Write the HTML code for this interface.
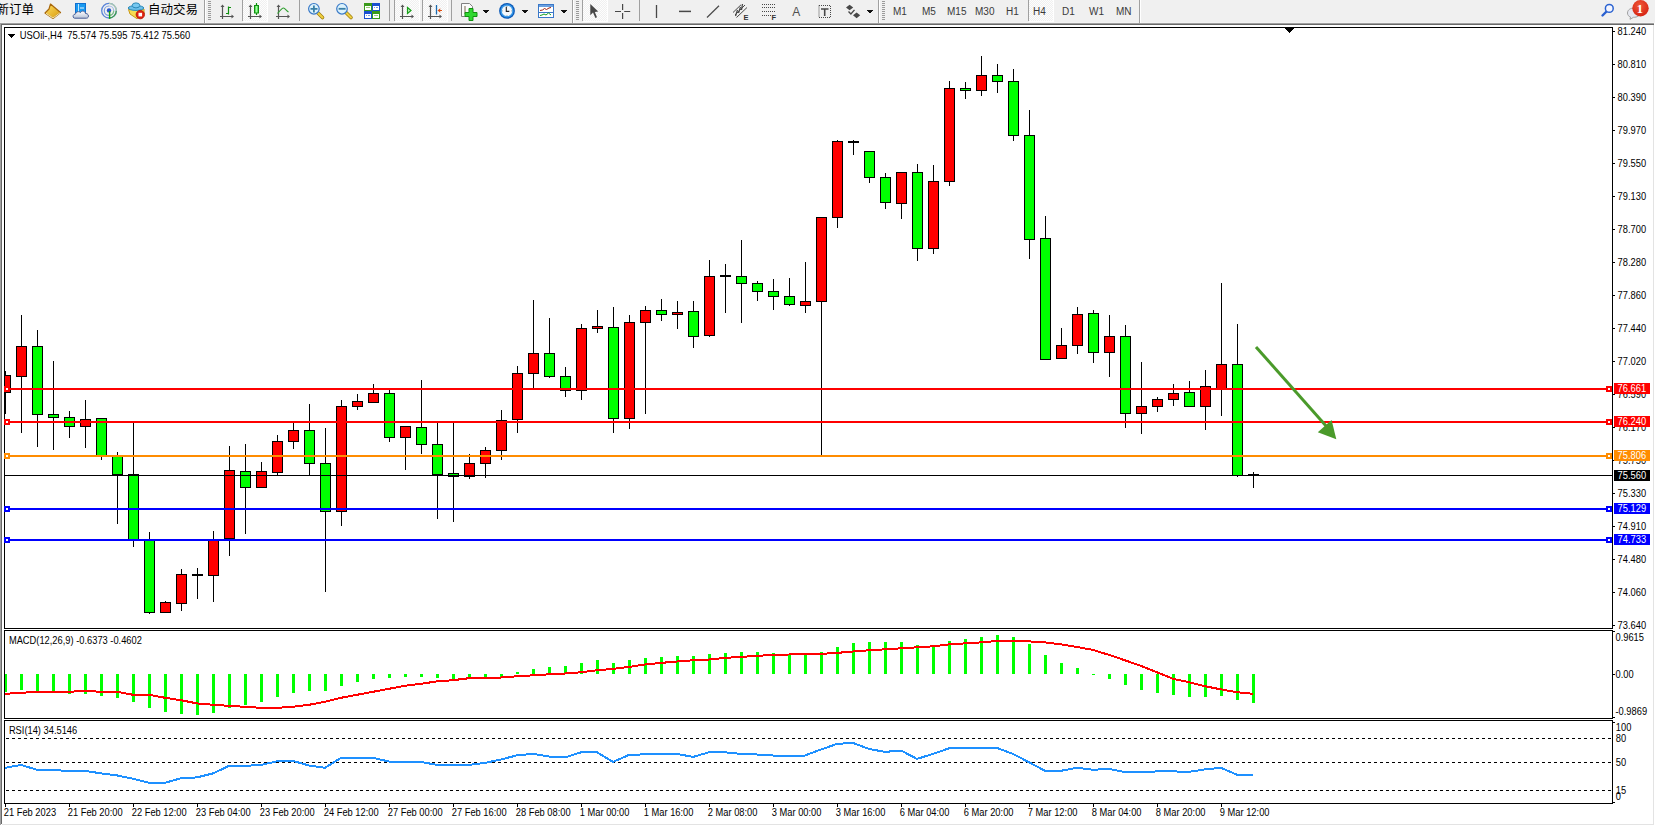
<!DOCTYPE html>
<html><head><meta charset="utf-8">
<style>
html,body{margin:0;padding:0;width:1655px;height:826px;overflow:hidden;background:#fff}
svg{display:block}
text{font-family:"Liberation Sans","Noto Sans CJK SC",sans-serif;font-size:10px}
.cj{font-family:"Liberation Sans","Noto Sans CJK SC",sans-serif;font-size:12.5px}
</style></head><body>
<svg width="1655" height="826" viewBox="0 0 1655 826" shape-rendering="crispEdges">
<!-- app frame -->
<rect x="0" y="0" width="1655" height="826" fill="#fff"/>
<rect x="0" y="0" width="1655" height="22" fill="#f0f0f0"/>
<rect x="0" y="22" width="1655" height="1" fill="#f4f4f4"/>
<rect x="0" y="23" width="1654" height="1" fill="#a0a0a0"/>
<rect x="0" y="24" width="1654" height="1" fill="#696969"/>
<rect x="0" y="23" width="1" height="802" fill="#a0a0a0"/>
<rect x="1" y="24" width="1" height="800" fill="#696969"/>
<rect x="2" y="824" width="1652" height="1" fill="#e3e3e3"/>
<rect x="1653" y="25" width="1" height="800" fill="#e3e3e3"/>

<!-- chart windows borders -->
<g fill="#000">
<rect x="4" y="27" width="1609" height="1"/>
<rect x="4" y="628" width="1609" height="1"/>
<rect x="4" y="27" width="1" height="602"/>
<rect x="1612" y="27" width="1" height="602"/>
<rect x="4" y="630" width="1609" height="1"/>
<rect x="4" y="718" width="1609" height="1"/>
<rect x="4" y="630" width="1" height="89"/>
<rect x="1612" y="630" width="1" height="89"/>
<rect x="4" y="720" width="1609" height="1"/>
<rect x="4" y="803" width="1609" height="1"/>
<rect x="4" y="720" width="1" height="84"/>
<rect x="1612" y="720" width="1" height="84"/>
</g>

<!-- main chart -->
<svg x="5" y="28" width="1607" height="600" viewBox="5 28 1607 600" overflow="hidden">
<g fill="#000">
<rect x="5" y="371" width="1" height="43"/>
<rect x="0" y="375" width="11" height="18"/>
<rect x="1" y="376" width="9" height="16" fill="#f00"/>
<rect x="21" y="315" width="1" height="118"/>
<rect x="16" y="346" width="11" height="31"/>
<rect x="17" y="347" width="9" height="29" fill="#f00"/>
<rect x="37" y="330" width="1" height="117"/>
<rect x="32" y="346" width="11" height="69"/>
<rect x="33" y="347" width="9" height="67" fill="#0f0"/>
<rect x="53" y="361" width="1" height="89"/>
<rect x="48" y="414" width="11" height="4"/>
<rect x="49" y="415" width="9" height="2" fill="#0f0"/>
<rect x="69" y="411" width="1" height="27"/>
<rect x="64" y="417" width="11" height="10"/>
<rect x="65" y="418" width="9" height="8" fill="#0f0"/>
<rect x="85" y="400" width="1" height="48"/>
<rect x="80" y="419" width="11" height="8"/>
<rect x="81" y="420" width="9" height="6" fill="#f00"/>
<rect x="101" y="418" width="1" height="42"/>
<rect x="96" y="418" width="11" height="38"/>
<rect x="97" y="419" width="9" height="36" fill="#0f0"/>
<rect x="117" y="452" width="1" height="72"/>
<rect x="112" y="456" width="11" height="19"/>
<rect x="113" y="457" width="9" height="17" fill="#0f0"/>
<rect x="133" y="423" width="1" height="124"/>
<rect x="128" y="474" width="11" height="66"/>
<rect x="129" y="475" width="9" height="64" fill="#0f0"/>
<rect x="149" y="532" width="1" height="82"/>
<rect x="144" y="540" width="11" height="73"/>
<rect x="145" y="541" width="9" height="71" fill="#0f0"/>
<rect x="165" y="601" width="1" height="12"/>
<rect x="160" y="602" width="11" height="11"/>
<rect x="161" y="603" width="9" height="9" fill="#f00"/>
<rect x="181" y="569" width="1" height="42"/>
<rect x="176" y="574" width="11" height="30"/>
<rect x="177" y="575" width="9" height="28" fill="#f00"/>
<rect x="197" y="568" width="1" height="31"/>
<rect x="192" y="574" width="11" height="2"/>
<rect x="213" y="531" width="1" height="71"/>
<rect x="208" y="540" width="11" height="36"/>
<rect x="209" y="541" width="9" height="34" fill="#f00"/>
<rect x="229" y="446" width="1" height="110"/>
<rect x="224" y="470" width="11" height="69"/>
<rect x="225" y="471" width="9" height="67" fill="#f00"/>
<rect x="245" y="444" width="1" height="90"/>
<rect x="240" y="471" width="11" height="17"/>
<rect x="241" y="472" width="9" height="15" fill="#0f0"/>
<rect x="261" y="462" width="1" height="26"/>
<rect x="256" y="471" width="11" height="17"/>
<rect x="257" y="472" width="9" height="15" fill="#f00"/>
<rect x="277" y="435" width="1" height="40"/>
<rect x="272" y="441" width="11" height="32"/>
<rect x="273" y="442" width="9" height="30" fill="#f00"/>
<rect x="293" y="423" width="1" height="26"/>
<rect x="288" y="430" width="11" height="12"/>
<rect x="289" y="431" width="9" height="10" fill="#f00"/>
<rect x="309" y="404" width="1" height="72"/>
<rect x="304" y="430" width="11" height="34"/>
<rect x="305" y="431" width="9" height="32" fill="#0f0"/>
<rect x="325" y="428" width="1" height="164"/>
<rect x="320" y="463" width="11" height="49"/>
<rect x="321" y="464" width="9" height="47" fill="#0f0"/>
<rect x="341" y="400" width="1" height="126"/>
<rect x="336" y="406" width="11" height="106"/>
<rect x="337" y="407" width="9" height="104" fill="#f00"/>
<rect x="357" y="394" width="1" height="16"/>
<rect x="352" y="401" width="11" height="6"/>
<rect x="353" y="402" width="9" height="4" fill="#f00"/>
<rect x="373" y="384" width="1" height="19"/>
<rect x="368" y="393" width="11" height="10"/>
<rect x="369" y="394" width="9" height="8" fill="#f00"/>
<rect x="389" y="390" width="1" height="52"/>
<rect x="384" y="393" width="11" height="45"/>
<rect x="385" y="394" width="9" height="43" fill="#0f0"/>
<rect x="405" y="426" width="1" height="44"/>
<rect x="400" y="426" width="11" height="12"/>
<rect x="401" y="427" width="9" height="10" fill="#f00"/>
<rect x="421" y="380" width="1" height="74"/>
<rect x="416" y="427" width="11" height="18"/>
<rect x="417" y="428" width="9" height="16" fill="#0f0"/>
<rect x="437" y="423" width="1" height="96"/>
<rect x="432" y="444" width="11" height="31"/>
<rect x="433" y="445" width="9" height="29" fill="#0f0"/>
<rect x="453" y="423" width="1" height="99"/>
<rect x="448" y="473" width="11" height="4"/>
<rect x="449" y="474" width="9" height="2" fill="#0f0"/>
<rect x="469" y="454" width="1" height="25"/>
<rect x="464" y="463" width="11" height="14"/>
<rect x="465" y="464" width="9" height="12" fill="#f00"/>
<rect x="485" y="447" width="1" height="31"/>
<rect x="480" y="450" width="11" height="14"/>
<rect x="481" y="451" width="9" height="12" fill="#f00"/>
<rect x="501" y="410" width="1" height="50"/>
<rect x="496" y="420" width="11" height="31"/>
<rect x="497" y="421" width="9" height="29" fill="#f00"/>
<rect x="517" y="366" width="1" height="67"/>
<rect x="512" y="373" width="11" height="47"/>
<rect x="513" y="374" width="9" height="45" fill="#f00"/>
<rect x="533" y="300" width="1" height="88"/>
<rect x="528" y="353" width="11" height="21"/>
<rect x="529" y="354" width="9" height="19" fill="#f00"/>
<rect x="549" y="318" width="1" height="60"/>
<rect x="544" y="353" width="11" height="24"/>
<rect x="545" y="354" width="9" height="22" fill="#0f0"/>
<rect x="565" y="367" width="1" height="30"/>
<rect x="560" y="376" width="11" height="15"/>
<rect x="561" y="377" width="9" height="13" fill="#0f0"/>
<rect x="581" y="324" width="1" height="76"/>
<rect x="576" y="328" width="11" height="63"/>
<rect x="577" y="329" width="9" height="61" fill="#f00"/>
<rect x="597" y="310" width="1" height="23"/>
<rect x="592" y="326" width="11" height="3"/>
<rect x="593" y="327" width="9" height="1" fill="#f00"/>
<rect x="613" y="307" width="1" height="126"/>
<rect x="608" y="327" width="11" height="92"/>
<rect x="609" y="328" width="9" height="90" fill="#0f0"/>
<rect x="629" y="315" width="1" height="114"/>
<rect x="624" y="322" width="11" height="97"/>
<rect x="625" y="323" width="9" height="95" fill="#f00"/>
<rect x="645" y="306" width="1" height="108"/>
<rect x="640" y="310" width="11" height="13"/>
<rect x="641" y="311" width="9" height="11" fill="#f00"/>
<rect x="661" y="299" width="1" height="22"/>
<rect x="656" y="310" width="11" height="5"/>
<rect x="657" y="311" width="9" height="3" fill="#0f0"/>
<rect x="677" y="301" width="1" height="28"/>
<rect x="672" y="312" width="11" height="3"/>
<rect x="673" y="313" width="9" height="1" fill="#f00"/>
<rect x="693" y="301" width="1" height="47"/>
<rect x="688" y="311" width="11" height="26"/>
<rect x="689" y="312" width="9" height="24" fill="#0f0"/>
<rect x="709" y="260" width="1" height="77"/>
<rect x="704" y="276" width="11" height="60"/>
<rect x="705" y="277" width="9" height="58" fill="#f00"/>
<rect x="725" y="264" width="1" height="49"/>
<rect x="720" y="275" width="11" height="2"/>
<rect x="741" y="240" width="1" height="83"/>
<rect x="736" y="276" width="11" height="8"/>
<rect x="737" y="277" width="9" height="6" fill="#0f0"/>
<rect x="757" y="281" width="1" height="20"/>
<rect x="752" y="283" width="11" height="9"/>
<rect x="753" y="284" width="9" height="7" fill="#0f0"/>
<rect x="773" y="279" width="1" height="31"/>
<rect x="768" y="291" width="11" height="6"/>
<rect x="769" y="292" width="9" height="4" fill="#0f0"/>
<rect x="789" y="278" width="1" height="28"/>
<rect x="784" y="296" width="11" height="9"/>
<rect x="785" y="297" width="9" height="7" fill="#0f0"/>
<rect x="805" y="262" width="1" height="51"/>
<rect x="800" y="301" width="11" height="5"/>
<rect x="801" y="302" width="9" height="3" fill="#f00"/>
<rect x="821" y="217" width="1" height="238"/>
<rect x="816" y="217" width="11" height="85"/>
<rect x="817" y="218" width="9" height="83" fill="#f00"/>
<rect x="837" y="140" width="1" height="88"/>
<rect x="832" y="141" width="11" height="77"/>
<rect x="833" y="142" width="9" height="75" fill="#f00"/>
<rect x="853" y="140" width="1" height="15"/>
<rect x="848" y="141" width="11" height="2"/>
<rect x="869" y="151" width="1" height="32"/>
<rect x="864" y="151" width="11" height="27"/>
<rect x="865" y="152" width="9" height="25" fill="#0f0"/>
<rect x="885" y="173" width="1" height="36"/>
<rect x="880" y="177" width="11" height="26"/>
<rect x="881" y="178" width="9" height="24" fill="#0f0"/>
<rect x="901" y="172" width="1" height="47"/>
<rect x="896" y="172" width="11" height="32"/>
<rect x="897" y="173" width="9" height="30" fill="#f00"/>
<rect x="917" y="164" width="1" height="97"/>
<rect x="912" y="172" width="11" height="77"/>
<rect x="913" y="173" width="9" height="75" fill="#0f0"/>
<rect x="933" y="165" width="1" height="89"/>
<rect x="928" y="181" width="11" height="68"/>
<rect x="929" y="182" width="9" height="66" fill="#f00"/>
<rect x="949" y="81" width="1" height="105"/>
<rect x="944" y="88" width="11" height="94"/>
<rect x="945" y="89" width="9" height="92" fill="#f00"/>
<rect x="965" y="82" width="1" height="17"/>
<rect x="960" y="88" width="11" height="3"/>
<rect x="961" y="89" width="9" height="1" fill="#0f0"/>
<rect x="981" y="56" width="1" height="40"/>
<rect x="976" y="75" width="11" height="16"/>
<rect x="977" y="76" width="9" height="14" fill="#f00"/>
<rect x="997" y="64" width="1" height="29"/>
<rect x="992" y="75" width="11" height="7"/>
<rect x="993" y="76" width="9" height="5" fill="#0f0"/>
<rect x="1013" y="69" width="1" height="72"/>
<rect x="1008" y="81" width="11" height="55"/>
<rect x="1009" y="82" width="9" height="53" fill="#0f0"/>
<rect x="1029" y="110" width="1" height="149"/>
<rect x="1024" y="135" width="11" height="105"/>
<rect x="1025" y="136" width="9" height="103" fill="#0f0"/>
<rect x="1045" y="216" width="1" height="144"/>
<rect x="1040" y="238" width="11" height="122"/>
<rect x="1041" y="239" width="9" height="120" fill="#0f0"/>
<rect x="1061" y="328" width="1" height="31"/>
<rect x="1056" y="345" width="11" height="14"/>
<rect x="1057" y="346" width="9" height="12" fill="#f00"/>
<rect x="1077" y="307" width="1" height="47"/>
<rect x="1072" y="314" width="11" height="32"/>
<rect x="1073" y="315" width="9" height="30" fill="#f00"/>
<rect x="1093" y="310" width="1" height="53"/>
<rect x="1088" y="313" width="11" height="40"/>
<rect x="1089" y="314" width="9" height="38" fill="#0f0"/>
<rect x="1109" y="315" width="1" height="62"/>
<rect x="1104" y="336" width="11" height="17"/>
<rect x="1105" y="337" width="9" height="15" fill="#f00"/>
<rect x="1125" y="325" width="1" height="103"/>
<rect x="1120" y="336" width="11" height="78"/>
<rect x="1121" y="337" width="9" height="76" fill="#0f0"/>
<rect x="1141" y="362" width="1" height="72"/>
<rect x="1136" y="406" width="11" height="8"/>
<rect x="1137" y="407" width="9" height="6" fill="#f00"/>
<rect x="1157" y="397" width="1" height="15"/>
<rect x="1152" y="399" width="11" height="8"/>
<rect x="1153" y="400" width="9" height="6" fill="#f00"/>
<rect x="1173" y="384" width="1" height="22"/>
<rect x="1168" y="393" width="11" height="7"/>
<rect x="1169" y="394" width="9" height="5" fill="#f00"/>
<rect x="1189" y="381" width="1" height="26"/>
<rect x="1184" y="392" width="11" height="15"/>
<rect x="1185" y="393" width="9" height="13" fill="#0f0"/>
<rect x="1205" y="370" width="1" height="60"/>
<rect x="1200" y="386" width="11" height="21"/>
<rect x="1201" y="387" width="9" height="19" fill="#f00"/>
<rect x="1221" y="283" width="1" height="133"/>
<rect x="1216" y="364" width="11" height="25"/>
<rect x="1217" y="365" width="9" height="23" fill="#f00"/>
<rect x="1237" y="324" width="1" height="153"/>
<rect x="1232" y="364" width="11" height="112"/>
<rect x="1233" y="365" width="9" height="110" fill="#0f0"/>
<rect x="1253" y="472" width="1" height="16"/>
<rect x="1248" y="474" width="11" height="2"/>
</g>
<rect x="5" y="475" width="1607" height="1" fill="#000"/>
<rect x="5" y="388" width="1607" height="2" fill="#f00"/>
<rect x="1606" y="386" width="6" height="6" fill="#f00"/>
<rect x="1608" y="388" width="2" height="2" fill="#fff"/>
<rect x="5" y="421" width="1607" height="2" fill="#f00"/>
<rect x="1606" y="419" width="6" height="6" fill="#f00"/>
<rect x="1608" y="421" width="2" height="2" fill="#fff"/>
<rect x="5" y="455" width="1607" height="2" fill="#ff8c00"/>
<rect x="1606" y="453" width="6" height="6" fill="#ff8c00"/>
<rect x="1608" y="455" width="2" height="2" fill="#fff"/>
<rect x="5" y="508" width="1607" height="2" fill="#00f"/>
<rect x="1606" y="506" width="6" height="6" fill="#00f"/>
<rect x="1608" y="508" width="2" height="2" fill="#fff"/>
<rect x="5" y="539" width="1607" height="2" fill="#00f"/>
<rect x="1606" y="537" width="6" height="6" fill="#00f"/>
<rect x="1608" y="539" width="2" height="2" fill="#fff"/>
<path d="M1256,347 L1327,427" stroke="#4a9a2a" stroke-width="3" fill="none" shape-rendering="auto"/>
<path d="M1336.3,439.3 L1317.8,432.3 L1331.6,420 Z" fill="#4a9a2a" shape-rendering="auto"/>
<path d="M1285,28 h9 l-4.5,5 z" fill="#000"/>
</svg>
<path d="M8,34 h7 l-3.5,4 z" fill="#000"/>
<text x="21.02" y="39" transform="scale(0.942,1)" xml:space="preserve">USOil-,H4  75.574 75.595 75.412 75.560</text>

<!-- price axis -->
<g fill="#000">
<rect x="1613" y="31" width="2" height="1"/>
<text x="1735.62" y="35" transform="scale(0.932,1)">81.240</text>
<rect x="1613" y="64" width="2" height="1"/>
<text x="1735.62" y="68" transform="scale(0.932,1)">80.810</text>
<rect x="1613" y="97" width="2" height="1"/>
<text x="1735.62" y="101" transform="scale(0.932,1)">80.390</text>
<rect x="1613" y="130" width="2" height="1"/>
<text x="1735.62" y="134" transform="scale(0.932,1)">79.970</text>
<rect x="1613" y="163" width="2" height="1"/>
<text x="1735.62" y="167" transform="scale(0.932,1)">79.550</text>
<rect x="1613" y="196" width="2" height="1"/>
<text x="1735.62" y="200" transform="scale(0.932,1)">79.130</text>
<rect x="1613" y="229" width="2" height="1"/>
<text x="1735.62" y="233" transform="scale(0.932,1)">78.700</text>
<rect x="1613" y="262" width="2" height="1"/>
<text x="1735.62" y="266" transform="scale(0.932,1)">78.280</text>
<rect x="1613" y="295" width="2" height="1"/>
<text x="1735.62" y="299" transform="scale(0.932,1)">77.860</text>
<rect x="1613" y="328" width="2" height="1"/>
<text x="1735.62" y="332" transform="scale(0.932,1)">77.440</text>
<rect x="1613" y="361" width="2" height="1"/>
<text x="1735.62" y="365" transform="scale(0.932,1)">77.020</text>
<rect x="1613" y="394" width="2" height="1"/>
<text x="1735.62" y="398" transform="scale(0.932,1)">76.590</text>
<rect x="1613" y="427" width="2" height="1"/>
<text x="1735.62" y="431" transform="scale(0.932,1)">76.170</text>
<rect x="1613" y="460" width="2" height="1"/>
<text x="1735.62" y="464" transform="scale(0.932,1)">75.750</text>
<rect x="1613" y="493" width="2" height="1"/>
<text x="1735.62" y="497" transform="scale(0.932,1)">75.330</text>
<rect x="1613" y="526" width="2" height="1"/>
<text x="1735.62" y="530" transform="scale(0.932,1)">74.910</text>
<rect x="1613" y="559" width="2" height="1"/>
<text x="1735.62" y="563" transform="scale(0.932,1)">74.480</text>
<rect x="1613" y="592" width="2" height="1"/>
<text x="1735.62" y="596" transform="scale(0.932,1)">74.060</text>
<rect x="1613" y="625" width="2" height="1"/>
<text x="1735.62" y="629" transform="scale(0.932,1)">73.640</text>
</g>
<rect x="4" y="386" width="6" height="6" fill="#f00"/>
<rect x="6" y="388" width="2" height="2" fill="#fff"/>
<rect x="4" y="419" width="6" height="6" fill="#f00"/>
<rect x="6" y="421" width="2" height="2" fill="#fff"/>
<rect x="4" y="453" width="6" height="6" fill="#ff8c00"/>
<rect x="6" y="455" width="2" height="2" fill="#fff"/>
<rect x="4" y="506" width="6" height="6" fill="#00f"/>
<rect x="6" y="508" width="2" height="2" fill="#fff"/>
<rect x="4" y="537" width="6" height="6" fill="#00f"/>
<rect x="6" y="539" width="2" height="2" fill="#fff"/>
<rect x="1614" y="383" width="36" height="11" fill="#f00"/>
<text x="1735.62" y="392" transform="scale(0.932,1)" fill="#fff">76.661</text>
<rect x="1614" y="416" width="36" height="11" fill="#f00"/>
<text x="1735.62" y="425" transform="scale(0.932,1)" fill="#fff">76.240</text>
<rect x="1614" y="450" width="36" height="11" fill="#ff8c00"/>
<text x="1735.62" y="459" transform="scale(0.932,1)" fill="#fff">75.806</text>
<rect x="1614" y="503" width="36" height="11" fill="#00f"/>
<text x="1735.62" y="512" transform="scale(0.932,1)" fill="#fff">75.129</text>
<rect x="1614" y="534" width="36" height="11" fill="#00f"/>
<text x="1735.62" y="543" transform="scale(0.932,1)" fill="#fff">74.733</text>
<rect x="1614" y="470" width="36" height="11" fill="#000"/>
<text x="1735.62" y="479" transform="scale(0.932,1)" fill="#fff">75.560</text>

<!-- MACD -->
<svg x="5" y="631" width="1607" height="87" viewBox="5 631 1607 87" overflow="hidden">
<g fill="#0f0">
<rect x="4" y="674" width="3" height="18"/>
<rect x="20" y="674" width="3" height="16"/>
<rect x="36" y="674" width="3" height="18"/>
<rect x="52" y="674" width="3" height="18"/>
<rect x="68" y="674" width="3" height="20"/>
<rect x="84" y="674" width="3" height="20"/>
<rect x="100" y="674" width="3" height="22"/>
<rect x="116" y="674" width="3" height="24"/>
<rect x="132" y="674" width="3" height="28"/>
<rect x="148" y="674" width="3" height="34"/>
<rect x="164" y="674" width="3" height="38"/>
<rect x="180" y="674" width="3" height="40"/>
<rect x="196" y="674" width="3" height="41"/>
<rect x="212" y="674" width="3" height="39"/>
<rect x="228" y="674" width="3" height="34"/>
<rect x="244" y="674" width="3" height="31"/>
<rect x="260" y="674" width="3" height="28"/>
<rect x="276" y="674" width="3" height="23"/>
<rect x="292" y="674" width="3" height="19"/>
<rect x="308" y="674" width="3" height="17"/>
<rect x="324" y="674" width="3" height="17"/>
<rect x="340" y="674" width="3" height="12"/>
<rect x="356" y="674" width="3" height="8"/>
<rect x="372" y="674" width="3" height="5"/>
<rect x="388" y="674" width="3" height="4"/>
<rect x="404" y="674" width="3" height="3"/>
<rect x="420" y="674" width="3" height="3"/>
<rect x="436" y="674" width="3" height="4"/>
<rect x="452" y="674" width="3" height="5"/>
<rect x="468" y="674" width="3" height="4"/>
<rect x="484" y="674" width="3" height="3"/>
<rect x="500" y="674" width="3" height="3"/>
<rect x="516" y="672" width="3" height="2"/>
<rect x="532" y="669" width="3" height="5"/>
<rect x="548" y="667" width="3" height="7"/>
<rect x="564" y="666" width="3" height="8"/>
<rect x="580" y="663" width="3" height="11"/>
<rect x="596" y="660" width="3" height="14"/>
<rect x="612" y="663" width="3" height="11"/>
<rect x="628" y="660" width="3" height="14"/>
<rect x="644" y="658" width="3" height="16"/>
<rect x="660" y="657" width="3" height="17"/>
<rect x="676" y="656" width="3" height="18"/>
<rect x="692" y="656" width="3" height="18"/>
<rect x="708" y="654" width="3" height="20"/>
<rect x="724" y="653" width="3" height="21"/>
<rect x="740" y="652" width="3" height="22"/>
<rect x="756" y="652" width="3" height="22"/>
<rect x="772" y="653" width="3" height="21"/>
<rect x="788" y="655" width="3" height="19"/>
<rect x="804" y="654" width="3" height="20"/>
<rect x="820" y="652" width="3" height="22"/>
<rect x="836" y="647" width="3" height="27"/>
<rect x="852" y="643" width="3" height="31"/>
<rect x="868" y="642" width="3" height="32"/>
<rect x="884" y="642" width="3" height="32"/>
<rect x="900" y="642" width="3" height="32"/>
<rect x="916" y="645" width="3" height="29"/>
<rect x="932" y="645" width="3" height="29"/>
<rect x="948" y="641" width="3" height="33"/>
<rect x="964" y="639" width="3" height="35"/>
<rect x="980" y="637" width="3" height="37"/>
<rect x="996" y="635" width="3" height="39"/>
<rect x="1012" y="637" width="3" height="37"/>
<rect x="1028" y="644" width="3" height="30"/>
<rect x="1044" y="655" width="3" height="19"/>
<rect x="1060" y="663" width="3" height="11"/>
<rect x="1076" y="668" width="3" height="6"/>
<rect x="1092" y="674" width="3" height="1"/>
<rect x="1108" y="674" width="3" height="5"/>
<rect x="1124" y="674" width="3" height="11"/>
<rect x="1140" y="674" width="3" height="16"/>
<rect x="1156" y="674" width="3" height="19"/>
<rect x="1172" y="674" width="3" height="21"/>
<rect x="1188" y="674" width="3" height="23"/>
<rect x="1204" y="674" width="3" height="23"/>
<rect x="1220" y="674" width="3" height="22"/>
<rect x="1236" y="674" width="3" height="26"/>
<rect x="1252" y="674" width="3" height="29"/>
</g>
<polyline points="5,693.8 21,692.8 37,691.8 53,691.8 69,691.8 85,690.8 101,691.8 117,691.8 133,694.8 149,694.8 165,697.8 181,700.2 197,703.4 213,704.8 229,705.8 245,706.8 261,707.8 277,707.8 293,706.8 309,704.8 325,701.8 341,697.8 357,694.8 373,691.8 389,688.8 405,685.8 421,683.8 437,681.4 453,680.2 469,678.2 485,677.5 501,677.5 517,676.3 533,675.3 549,674.3 565,673.5 581,672.3 597,670.3 613,668.9 629,666.9 645,664.5 661,662.9 677,661.5 693,660.3 709,659.5 725,657.9 741,656.9 757,655.9 773,654.9 789,654.5 805,653.9 821,653.9 837,652.9 853,651.5 869,650.3 885,649.3 901,648.3 917,647.3 933,646.3 949,644.4 965,643.4 981,642.4 997,641 1013,641 1029,641.4 1045,642.4 1061,644.4 1077,647 1093,649.9 1109,654.9 1125,660.3 1141,665.9 1157,672.3 1173,678.8 1189,682.2 1205,686.2 1221,689.4 1237,692.2 1253,693.8" fill="none" stroke="#f00" stroke-width="2"/>
</svg>
<text x="9.55" y="644" transform="scale(0.932,1)">MACD(12,26,9) -0.6373 -0.4602</text>
<g fill="#000">
<rect x="1613" y="631" width="2" height="1"/>
<rect x="1613" y="674" width="2" height="1"/>
<rect x="1613" y="717" width="2" height="1"/>
<rect x="1613" y="722" width="2" height="1"/>
<rect x="1613" y="802" width="2" height="1"/>
</g>
<text x="1733.37" y="641" transform="scale(0.932,1)">0.9615</text><text x="1733.37" y="678" transform="scale(0.932,1)">0.00</text><text x="1733.37" y="715" transform="scale(0.932,1)">-0.9869</text>

<!-- RSI -->
<svg x="5" y="721" width="1607" height="82" viewBox="5 721 1607 82" overflow="hidden">
<g stroke="#000" stroke-width="1" stroke-dasharray="3 3" fill="none">
<line x1="6" y1="738.5" x2="1612" y2="738.5"/>
<line x1="6" y1="762.5" x2="1612" y2="762.5"/>
<line x1="6" y1="790.5" x2="1612" y2="790.5"/>
</g>
<polyline points="5,767.8 21,764.9 37,769.8 53,770.2 69,770.8 85,770.8 101,773.4 117,775.4 133,778.8 149,782.8 165,782.8 181,778.2 197,777.4 213,773.4 229,765.9 245,765.9 261,764.9 277,761.3 293,760.9 309,765.5 325,767.8 341,757.9 357,757.9 373,757.9 389,761.5 405,761.9 421,761.9 437,764.9 453,764.9 469,764.9 485,762.9 501,759.5 517,755.3 533,753.9 549,756.5 565,757.5 581,752.3 597,752.3 613,761.9 629,754.9 645,754.3 661,753.9 677,753.9 693,756.9 709,752.3 725,752.3 741,753.9 757,754.5 773,755.5 789,755.5 805,755.5 821,749.5 837,743.9 853,742.9 869,748.9 885,751.9 901,750.5 917,758.9 933,753.9 949,748.3 965,747.9 981,747.9 997,747.9 1013,753.9 1029,762.3 1045,770.8 1061,770.8 1077,767.8 1093,769.8 1109,768.8 1125,772.2 1141,772.2 1157,771.4 1173,771.4 1189,771.8 1205,769.4 1221,767.8 1237,774.8 1253,774.8" fill="none" stroke="#1e90ff" stroke-width="2"/>
</svg>
<text x="9.55" y="734" transform="scale(0.932,1)">RSI(14) 34.5146</text>
<text x="1733.69" y="731" transform="scale(0.932,1)">100</text><text x="1733.69" y="742" transform="scale(0.932,1)">80</text><text x="1733.69" y="766" transform="scale(0.932,1)">50</text><text x="1733.69" y="794" transform="scale(0.932,1)">15</text><text x="1733.69" y="800" transform="scale(0.932,1)">0</text>

<!-- time axis -->
<g fill="#000">
<rect x="5" y="803" width="1" height="4"/>
<text x="4.08" y="816" transform="scale(0.932,1)">21 Feb 2023</text>
<rect x="69" y="803" width="1" height="4"/>
<text x="72.75" y="816" transform="scale(0.932,1)">21 Feb 20:00</text>
<rect x="133" y="803" width="1" height="4"/>
<text x="141.42" y="816" transform="scale(0.932,1)">22 Feb 12:00</text>
<rect x="197" y="803" width="1" height="4"/>
<text x="210.09" y="816" transform="scale(0.932,1)">23 Feb 04:00</text>
<rect x="261" y="803" width="1" height="4"/>
<text x="278.76" y="816" transform="scale(0.932,1)">23 Feb 20:00</text>
<rect x="325" y="803" width="1" height="4"/>
<text x="347.42" y="816" transform="scale(0.932,1)">24 Feb 12:00</text>
<rect x="389" y="803" width="1" height="4"/>
<text x="416.09" y="816" transform="scale(0.932,1)">27 Feb 00:00</text>
<rect x="453" y="803" width="1" height="4"/>
<text x="484.76" y="816" transform="scale(0.932,1)">27 Feb 16:00</text>
<rect x="517" y="803" width="1" height="4"/>
<text x="553.43" y="816" transform="scale(0.932,1)">28 Feb 08:00</text>
<rect x="581" y="803" width="1" height="4"/>
<text x="622.10" y="816" transform="scale(0.932,1)">1 Mar 00:00</text>
<rect x="645" y="803" width="1" height="4"/>
<text x="690.77" y="816" transform="scale(0.932,1)">1 Mar 16:00</text>
<rect x="709" y="803" width="1" height="4"/>
<text x="759.44" y="816" transform="scale(0.932,1)">2 Mar 08:00</text>
<rect x="773" y="803" width="1" height="4"/>
<text x="828.11" y="816" transform="scale(0.932,1)">3 Mar 00:00</text>
<rect x="837" y="803" width="1" height="4"/>
<text x="896.78" y="816" transform="scale(0.932,1)">3 Mar 16:00</text>
<rect x="901" y="803" width="1" height="4"/>
<text x="965.45" y="816" transform="scale(0.932,1)">6 Mar 04:00</text>
<rect x="965" y="803" width="1" height="4"/>
<text x="1034.12" y="816" transform="scale(0.932,1)">6 Mar 20:00</text>
<rect x="1029" y="803" width="1" height="4"/>
<text x="1102.79" y="816" transform="scale(0.932,1)">7 Mar 12:00</text>
<rect x="1093" y="803" width="1" height="4"/>
<text x="1171.46" y="816" transform="scale(0.932,1)">8 Mar 04:00</text>
<rect x="1157" y="803" width="1" height="4"/>
<text x="1240.13" y="816" transform="scale(0.932,1)">8 Mar 20:00</text>
<rect x="1221" y="803" width="1" height="4"/>
<text x="1308.80" y="816" transform="scale(0.932,1)">9 Mar 12:00</text>
</g>

<!-- toolbar -->
<g id="toolbar">
<defs>
<pattern id="chk" width="2" height="2" patternUnits="userSpaceOnUse"><rect width="2" height="2" fill="#f0f0f0"/><rect width="1" height="1" fill="#fdfdfd"/><rect x="1" y="1" width="1" height="1" fill="#fdfdfd"/></pattern>
<linearGradient id="gold" x1="0" y1="0" x2="1" y2="1"><stop offset="0" stop-color="#ffe060"/><stop offset="1" stop-color="#d89a10"/></linearGradient>
<linearGradient id="cloud" x1="0" y1="0" x2="0" y2="1"><stop offset="0" stop-color="#ffffff"/><stop offset="1" stop-color="#b8c4d8"/></linearGradient>
<radialGradient id="badge" cx="0.45" cy="0.35" r="0.7"><stop offset="0" stop-color="#f05a3a"/><stop offset="1" stop-color="#d42010"/></radialGradient>
<linearGradient id="gbar" x1="0" y1="0" x2="1" y2="0"><stop offset="0" stop-color="#20c020"/><stop offset="0.5" stop-color="#a0ffa0"/><stop offset="1" stop-color="#20c020"/></linearGradient>
</defs>
<!-- separators -->
<g fill="#a0a0a0">
<rect x="204" y="0" width="1" height="23"/>
<rect x="242" y="0" width="1" height="21"/>
<rect x="299" y="0" width="1" height="21"/>
<rect x="389" y="0" width="1" height="21"/>
<rect x="394" y="0" width="1" height="21"/>
<rect x="422" y="0" width="1" height="21"/>
<rect x="451" y="0" width="1" height="21"/>
<rect x="572" y="0" width="1" height="23"/>
<rect x="582" y="0" width="1" height="21"/>
<rect x="639" y="0" width="1" height="21"/>
<rect x="878" y="0" width="1" height="23"/>
<rect x="1028" y="0" width="1" height="21"/>
<rect x="1139" y="0" width="1" height="23"/>
</g>
<g fill="#fff">
<rect x="205" y="0" width="1" height="23"/>
<rect x="573" y="0" width="1" height="23"/>
<rect x="879" y="0" width="1" height="23"/>
<rect x="1140" y="0" width="1" height="23"/>
</g>
<!-- grips -->
<g fill="#9a9a9a">
<path d="M208 1h3v1h-3zM208 3h3v1h-3zM208 5h3v1h-3zM208 7h3v1h-3zM208 9h3v1h-3zM208 11h3v1h-3zM208 13h3v1h-3zM208 15h3v1h-3zM208 17h3v1h-3zM208 19h3v1h-3z"/>
<path d="M576 1h3v1h-3zM576 3h3v1h-3zM576 5h3v1h-3zM576 7h3v1h-3zM576 9h3v1h-3zM576 11h3v1h-3zM576 13h3v1h-3zM576 15h3v1h-3zM576 17h3v1h-3zM576 19h3v1h-3z"/>
<path d="M882 1h3v1h-3zM882 3h3v1h-3zM882 5h3v1h-3zM882 7h3v1h-3zM882 9h3v1h-3zM882 11h3v1h-3zM882 13h3v1h-3zM882 15h3v1h-3zM882 17h3v1h-3zM882 19h3v1h-3z"/>
</g>
<!-- pressed buttons -->
<g>
<rect x="243" y="0" width="24" height="21" fill="url(#chk)"/><rect x="267" y="0" width="1" height="22" fill="#fff"/><rect x="243" y="21" width="25" height="1" fill="#fff"/>
<rect x="395" y="0" width="24" height="21" fill="url(#chk)"/><rect x="419" y="0" width="1" height="22" fill="#fff"/><rect x="395" y="21" width="25" height="1" fill="#fff"/>
<rect x="423" y="0" width="24" height="21" fill="url(#chk)"/><rect x="447" y="0" width="1" height="22" fill="#fff"/><rect x="423" y="21" width="25" height="1" fill="#fff"/>
<rect x="583" y="0" width="24" height="21" fill="url(#chk)"/><rect x="607" y="0" width="1" height="22" fill="#fff"/><rect x="583" y="21" width="25" height="1" fill="#fff"/>
<rect x="1029" y="0" width="24" height="21" fill="url(#chk)"/><rect x="1053" y="0" width="1" height="22" fill="#fff"/><rect x="1029" y="21" width="25" height="1" fill="#fff"/>
</g>
<g shape-rendering="auto">
<!-- gold book -->
<path d="M50.5,4 L60.5,12.5 L53,18.5 L45,13 L49,9 Z" fill="url(#gold)" stroke="#a8680c" stroke-width="1.2" stroke-linejoin="round"/>
<path d="M46,13.3 L53,18 L60,12.8" fill="none" stroke="#f4e8b0" stroke-width="1"/>
<!-- building + cloud -->
<rect x="75.5" y="3.5" width="10" height="9" fill="#1a9af0" stroke="#1070d0" stroke-width="1"/>
<path d="M78.5 4v8" stroke="#bfe6ff" stroke-width="1"/>
<path d="M80 8h4" stroke="#e8f6ff" stroke-width="1"/>
<path d="M74.5,18.2 C72.5,18 72.5,14 75.5,14 C76,11.5 79,11 80.5,12.5 C81.5,10.5 85,10.5 85.5,13.5 C89,13.2 89.5,18 86.5,18.2 Z" fill="url(#cloud)" stroke="#4a5f96" stroke-width="1"/>
<!-- radar -->
<circle cx="109" cy="10.7" r="7.3" fill="none" stroke="#5a84d8" stroke-width="1.3"/>
<circle cx="109" cy="10.7" r="4.7" fill="none" stroke="#7a9ce0" stroke-width="1.2"/>
<path d="M109,10.7 L109,18.6 A7.9,7.9 0 0 0 116.9,10.7 L116.9,4 L109,4 Z" fill="#f0f0f0" opacity="0.35"/>
<path d="M116.3,10.7 A7.3,7.3 0 0 1 109,18" fill="none" stroke="#3c9a50" stroke-width="1.3"/>
<path d="M113.7,10.7 A4.7,4.7 0 0 1 109,15.4" fill="none" stroke="#80c080" stroke-width="1.2"/>
<path d="M109,3.4 A7.3,7.3 0 0 1 116.3,10.7" fill="none" stroke="#a8c8b0" stroke-width="1.2"/>
<circle cx="109" cy="10.4" r="2.2" fill="#2a58cc"/>
<path d="M109.6 11v7.8" stroke="#18a018" stroke-width="1.4"/>
<!-- auto trading hat -->
<path d="M128.5,9.5 L144,9 L144,14 L137,18.7 L130,14 Z" fill="#f6dc50" stroke="#c89818" stroke-width="1"/>
<ellipse cx="136" cy="8" rx="7.8" ry="2.4" fill="#6ec0ea" stroke="#2a88b8" stroke-width="1"/>
<ellipse cx="136" cy="5.4" rx="3.8" ry="2.5" fill="#78c8f0" stroke="#2a88b8" stroke-width="1"/>
<circle cx="140.3" cy="14.6" r="4.2" fill="#e02010" stroke="#b01000" stroke-width="0.8"/>
<rect x="138.5" y="12.8" width="3.6" height="3.6" fill="#fff"/>
<!-- bar chart -->
<g stroke="#555" stroke-width="1.2" fill="none"><path d="M222.5 6v13M220 16.5h13"/></g>
<g fill="#555"><path d="M222.5,4.5 l-2,2.5 h4z M234,16.5 l-2.5,-2 v4z"/></g>
<path d="M228.5 6.5v8M226 13.5h2.5M228.5 7.5h2.5" stroke="#109010" stroke-width="1.2" fill="none"/>
<!-- candle icon -->
<g stroke="#555" stroke-width="1.2" fill="none"><path d="M250.5 6v13M248 16.5h13"/></g>
<g fill="#555"><path d="M250.5,4.5 l-2,2.5 h4z M262,16.5 l-2.5,-2 v4z"/></g>
<path d="M256.5 3v12" stroke="#109010" stroke-width="1.2"/>
<rect x="254.5" y="5.5" width="4" height="7.5" fill="url(#gbar)" stroke="#109010" stroke-width="1"/>
<!-- line chart -->
<g stroke="#555" stroke-width="1.2" fill="none"><path d="M278.5 6v13M276 16.5h13"/></g>
<g fill="#555"><path d="M278.5,4.5 l-2,2.5 h4z M290,16.5 l-2.5,-2 v4z"/></g>
<path d="M277.5,13.5 C280,10.5 282,8 283.5,8 C285,8 286.5,11 288.5,12" stroke="#30a030" stroke-width="1.1" fill="none"/>
<!-- zoom in / out -->
<path d="M317.5,12.5 L322.5,17.5" stroke="#a08010" stroke-width="3.6" stroke-linecap="round"/>
<path d="M317.5,12.5 L322.5,17.5" stroke="#f0d040" stroke-width="2" stroke-linecap="round"/>
<circle cx="313.9" cy="8.8" r="5.3" fill="#dcf2fc" stroke="#3a7ac8" stroke-width="1.2"/>
<path d="M310.5 8.8h7M313.9 5.4v7" stroke="#3a80a8" stroke-width="1.8"/>
<path d="M346,12.5 L351,17.5" stroke="#a08010" stroke-width="3.6" stroke-linecap="round"/>
<path d="M346,12.5 L351,17.5" stroke="#f0d040" stroke-width="2" stroke-linecap="round"/>
<circle cx="342" cy="8.8" r="5.3" fill="#dcf2fc" stroke="#3a7ac8" stroke-width="1.2"/>
<path d="M338.6 8.8h7" stroke="#3a80a8" stroke-width="1.8"/>
<!-- tile windows -->
<rect x="364" y="3" width="8" height="8" fill="#3a9a1a"/><rect x="372" y="3" width="8" height="8" fill="#1a50d0"/>
<rect x="364" y="11" width="8" height="8" fill="#1a50d0"/><rect x="372" y="11" width="8" height="8" fill="#3a9a1a"/>
<g fill="#fff"><rect x="365" y="6" width="6" height="4"/><rect x="373" y="6" width="6" height="4"/><rect x="365" y="14" width="6" height="4"/><rect x="373" y="14" width="6" height="4"/></g>
<g fill="#9ad07a"><rect x="366" y="7" width="4" height="1"/><rect x="374" y="15" width="4" height="1"/></g><g fill="#7a9ae8"><rect x="374" y="7" width="1" height="1"/><rect x="376" y="7" width="2" height="1"/><rect x="366" y="15" width="1" height="1"/><rect x="368" y="15" width="2" height="1"/></g>
<!-- autoscroll -->
<g stroke="#555" stroke-width="1.2" fill="none"><path d="M402.5 6v13M400 16.5h13"/></g>
<g fill="#555"><path d="M402.5,4.5 l-2,2.5 h4z M414,16.5 l-2.5,-2 v4z"/></g>
<path d="M407.5,7.5 L411,10.5 L407.5,13.5 Z" fill="#c8f0c8" stroke="#18a018" stroke-width="1.2"/>
<!-- chart shift -->
<g stroke="#555" stroke-width="1.2" fill="none"><path d="M430.5 6v13M428 16.5h13"/></g>
<g fill="#555"><path d="M430.5,4.5 l-2,2.5 h4z M442,16.5 l-2.5,-2 v4z"/></g>
<path d="M436.5 5v9.5" stroke="#1a6ab0" stroke-width="1.3"/>
<path d="M437.5,10.5 L440.5,8.3 L440,10 L442,10 L442,11 L440,11 L440.5,12.7 Z" fill="#e05010"/>
<!-- new chart -->
<path d="M461.5,3.5 H469.5 L472.5,6.5 V16.5 H461.5 Z" fill="#fafafa" stroke="#808080" stroke-width="1"/>
<path d="M465,6 v8" stroke="#7a6a50" stroke-width="1"/>
<path d="M469,8.5 h4 v4 h4 v4 h-4 v4 h-4 v-4 h-4 v-4 h4 z" fill="#30d830" stroke="#109010" stroke-width="1"/>
<!-- clock -->
<circle cx="507" cy="10.9" r="7.9" fill="#0a58b8"/>
<circle cx="507" cy="10.9" r="6.6" fill="#3a9ae8"/>
<circle cx="507" cy="10.9" r="5.2" fill="#f4f8fc"/>
<path d="M506.3 6.8v4.6h3" stroke="#222" stroke-width="1.1" fill="none"/>
<path d="M507 6v0.8M507 15v0.8M502 10.9h0.8M511.2 10.9h0.8" stroke="#888" stroke-width="0.8"/>
<!-- template -->
<rect x="538.5" y="4.5" width="15" height="13" fill="#fff" stroke="#3a78c8" stroke-width="1"/>
<rect x="539" y="5" width="14" height="2" fill="#6aa0e0"/>
<path d="M539 12.5h14" stroke="#3a78c8" stroke-width="1"/>
<path d="M540,10.5 l2.5,-0.5 l2,-1.5 l2,1 l2.5,-1.5 l2,-0.5" stroke="#a02010" stroke-width="1" fill="none"/>
<path d="M540,15.5 l2,-0.5 l2,-1 l2,1 l2.5,-2 l2.5,2" stroke="#10a020" stroke-width="1" fill="none"/>
<!-- cursor -->
<path d="M590.3,4 L590.3,15.2 L593,12.6 L595.4,18 L597,17.2 L594.8,12 L598.2,11.6 Z" fill="#484848"/>
<!-- crosshair -->
<path d="M622.6 4v6M622.6 13v6M615 11.5h6M624.2 11.5h6" stroke="#484848" stroke-width="1.2"/>
<!-- vline hline trend -->
<path d="M656.5 5v13" stroke="#484848" stroke-width="1.3"/>
<path d="M679 11.4h12" stroke="#484848" stroke-width="1.5"/>
<path d="M707,17.5 L719,5.7" stroke="#484848" stroke-width="1.2"/>
<!-- channel -->
<path d="M733,12.5 L741,4.8 M736.5,17.5 L747,7.5 M735,15 L745,5" stroke="#484848" stroke-width="1" fill="none"/>
<path d="M735.5,16 l2,-6 M738.5,13 l2,-6 M741.5,10 l1,-6" stroke="#484848" stroke-width="1.3"/>
<!-- fib dots -->
<g fill="#484848">
<path d="M762 4h1v1h-1zM764 4h1v1h-1zM766 4h1v1h-1zM768 4h1v1h-1zM770 4h1v1h-1zM772 4h1v1h-1zM774 4h1v1h-1z"/>
<path d="M762 7h1v1h-1zM764 7h1v1h-1zM766 7h1v1h-1zM768 7h1v1h-1zM770 7h1v1h-1zM772 7h1v1h-1zM774 7h1v1h-1z"/>
<path d="M762 11h1v1h-1zM764 11h1v1h-1zM766 11h1v1h-1zM768 11h1v1h-1zM770 11h1v1h-1zM772 11h1v1h-1zM774 11h1v1h-1z"/>
<path d="M762 15h1v1h-1zM764 15h1v1h-1zM766 15h1v1h-1zM768 15h1v1h-1zM770 15h1v1h-1z"/>
</g>
<!-- T box -->
<rect x="819" y="5.5" width="11.5" height="12" fill="none" stroke="#484848" stroke-width="1" stroke-dasharray="1 1"/>
<path d="M821 9h7.5M824.7 9v7" stroke="#484848" stroke-width="1.6"/>
<!-- arrows/check -->
<path d="M849.6,4.8 l3.6,2.8 l-3.6,2.6 l-3.6,-2.6 z M856.6,12.6 l3.6,2.7 l-3.6,2.9 l-3.6,-2.9 z" fill="#484848"/>
<path d="M848.5,11.5 l2.4,2.4 l3.6,-4" stroke="#484848" stroke-width="1.4" fill="none"/>
<!-- search -->
<path d="M1606.5,11.5 L1602.5,15.5" stroke="#2a60d0" stroke-width="2.4" stroke-linecap="round"/>
<circle cx="1609.3" cy="8.4" r="3.9" fill="#f4f6ff" stroke="#2a62d0" stroke-width="1.5"/>
<!-- bubble + badge -->
<path d="M1627.5,13 C1627.5,9.5 1631,8 1634,8 C1638,8 1640,10 1640,13 C1640,16 1637,17.3 1633.5,17.3 L1630,19.3 L1630.5,17 C1628.5,16.3 1627.5,15 1627.5,13 Z" fill="#e6e8f0" stroke="#a0a0a0" stroke-width="1"/>
<circle cx="1640.5" cy="8.2" r="8.2" fill="url(#badge)"/>
</g>
<text x="1636.8" y="13.2" fill="#fff" style="font-family:'Liberation Serif',serif;font-size:12.5px;font-weight:bold">1</text>
<!-- dropdown arrows -->
<g fill="#111">
<path d="M482,10h7l-3.5,3.5z"/>
<path d="M521,10h7l-3.5,3.5z"/>
<path d="M560,10h7l-3.5,3.5z"/>
<path d="M866,10h7l-3.5,3.5z"/>
</g>
<text x="792.3" y="16" fill="#505050" style="font-size:12px">A</text>
<text x="743.5" y="20" fill="#333" style="font-size:7.5px;font-weight:bold">E</text>
<text x="771.5" y="20" fill="#333" style="font-size:7.5px;font-weight:bold">F</text>

<text class="cj" x="-3.4" y="14.2">新订单</text>
<text class="cj" x="148" y="14.2">自动交易</text>
<g fill="#3a3a3a">
<text x="893" y="15">M1</text>
<text x="922" y="15">M5</text>
<text x="947" y="15">M15</text>
<text x="975" y="15">M30</text>
<text x="1006" y="15">H1</text>
<text x="1033" y="15">H4</text>
<text x="1062" y="15">D1</text>
<text x="1089" y="15">W1</text>
<text x="1116" y="15">MN</text>
</g>
</g>
</svg>
</body></html>
